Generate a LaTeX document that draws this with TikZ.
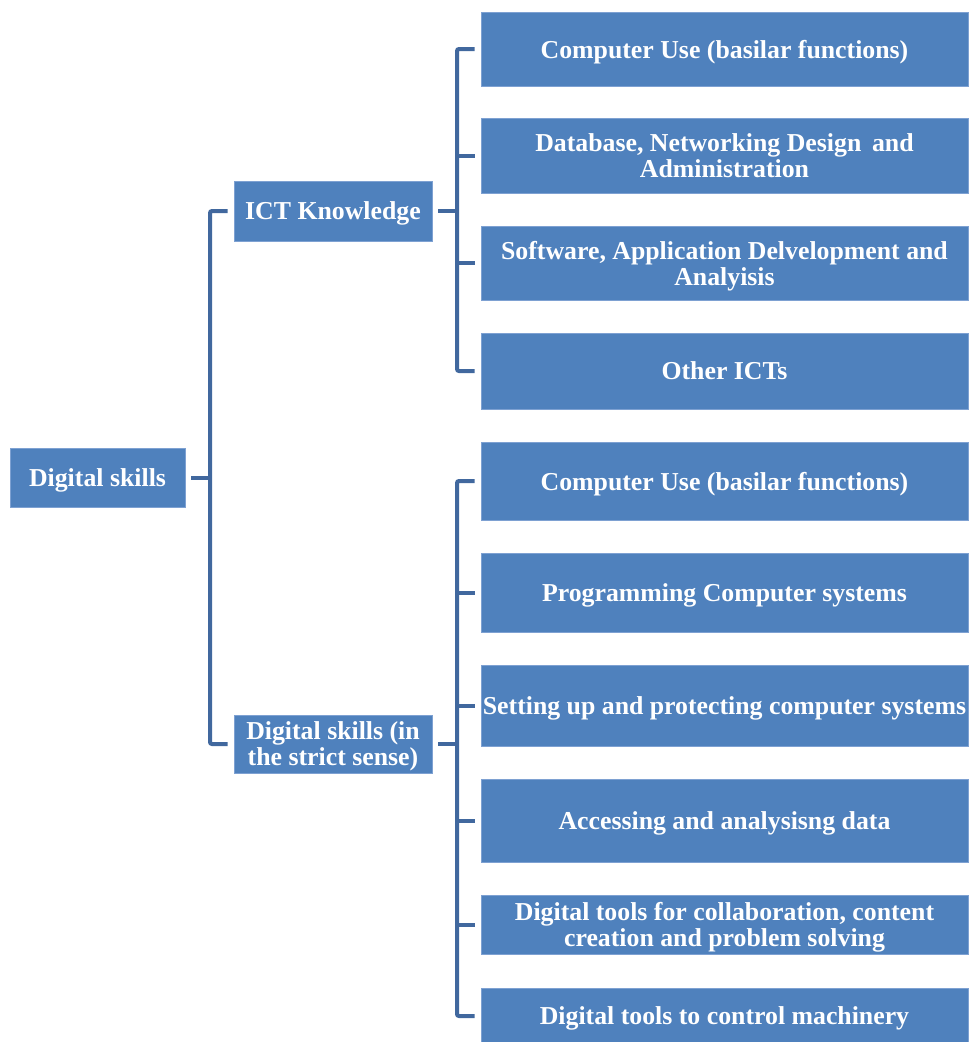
\documentclass[tikz,border=0pt]{standalone}
\usepackage{fontspec}
\setmainfont{Liberation Serif}
\definecolor{boxblue}{HTML}{4F81BD}
\definecolor{boxedge}{HTML}{7EA1D2}
\definecolor{linkblue}{HTML}{41689E}
\begin{document}
\begin{tikzpicture}[x=1pt,y=-1pt,
  box/.style={fill=boxblue, draw=boxedge, line width=0.7pt, text=white,
    font=\bfseries\fontsize{25.8}{26}\selectfont, align=center, inner sep=0pt,
    text depth=0pt},
  conn/.style={draw=linkblue, line width=4pt, rounded corners=2pt}]
\useasboundingbox (0,0) rectangle (970,1042);
% root and level 1
\node[box, minimum width=175, minimum height=59] (root) at (97.5,477.5) {Digital skills};
\node[box, minimum width=198, minimum height=60] (ict) at (333,211) {ICT Knowledge};
\node[box, minimum width=198, minimum height=58] (strict) at (333,744) {Digital skills (in\\the strict sense)};
% ICT children
\node[box, minimum width=487, minimum height=74] (a1) at (724.5,49) {Computer Use (basilar functions)};
\node[box, minimum width=487, minimum height=75] (a2) at (724.5,155.5) {Database, Networking Design\, and\\Administration};
\node[box, minimum width=487, minimum height=74] (a3) at (724.5,263) {Software, Application Delvelopment and\\Analyisis};
\node[box, minimum width=487, minimum height=76] (a4) at (724.5,371) {Other ICTs};
% strict children
\node[box, minimum width=487, minimum height=78] (b1) at (724.5,481) {Computer Use (basilar functions)};
\node[box, minimum width=487, minimum height=79] (b2) at (724.5,592.5) {Programming Computer systems};
\node[box, minimum width=487, minimum height=81] (b3) at (724.5,705.5) {Setting up and protecting computer systems};
\node[box, minimum width=487, minimum height=83] (b4) at (724.5,820.5) {Accessing and analysisng data};
\node[box, minimum width=487, minimum height=59] (b5) at (724.5,924.5) {Digital tools for collaboration, content\\creation and problem solving};
\node[box, minimum width=487, minimum height=56] (b6) at (724.5,1016) {Digital tools to control machinery};
% junctions
\coordinate (j1) at (210,477.5);
\coordinate (j2) at (457,211);
\coordinate (j3) at (457,744);
% root bracket
\draw[conn] ([xshift=6pt]root.east) -- (j1);
\draw[conn] ([xshift=-6pt]ict.west) -| (j1) |- ([xshift=-6pt]strict.west);
% ICT bracket
\draw[conn] ([xshift=6pt]ict.east) -- (j2);
\draw[conn] ([xshift=-6pt]a1.west) -| (j2) |- ([xshift=-6pt]a4.west);
\draw[conn] (j2|-a2.west) -- ([xshift=-6pt]a2.west);
\draw[conn] (j2|-a3.west) -- ([xshift=-6pt]a3.west);
% strict bracket
\draw[conn] ([xshift=6pt]strict.east) -- (j3);
\draw[conn] ([xshift=-6pt]b1.west) -| (j3) |- ([xshift=-6pt]b6.west);
\draw[conn] (j3|-b2.west) -- ([xshift=-6pt]b2.west);
\draw[conn] (j3|-b3.west) -- ([xshift=-6pt]b3.west);
\draw[conn] (j3|-b4.west) -- ([xshift=-6pt]b4.west);
\draw[conn] (j3|-b5.west) -- ([xshift=-6pt]b5.west);
\end{tikzpicture}
\end{document}
